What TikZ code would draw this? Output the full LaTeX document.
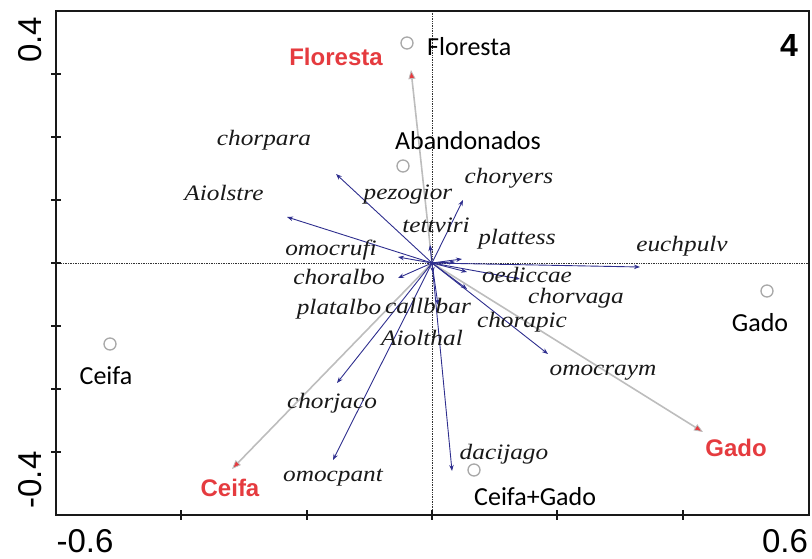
\documentclass[tikz,border=0pt]{standalone}
\usepackage{fontspec}
\setmainfont{Liberation Serif}
\newfontfamily\arialf{Liberation Sans}
\newfontfamily\calibf{Carlito}
\newfontfamily\sppf[FakeStretch=1.15]{Liberation Serif}
\usetikzlibrary{arrows.meta}
\definecolor{spblue}{HTML}{2E2E8E}
\definecolor{lgray}{HTML}{BDBDBD}
\definecolor{cgray}{HTML}{A8A8A8}
\definecolor{redlab}{HTML}{E53B3F}
\tikzset{
  frame/.style={line width=2pt, draw=black!90},
  guide/.style={densely dotted, line width=0.7pt, draw=black!80},
  axtick/.style={line width=1.6pt, draw=black!90},
  sparrow/.style={draw=spblue, line width=0.9pt, -{Stealth[length=6pt,width=4.5pt,color=spblue]}},
  envarrow/.style={draw=lgray, line width=1.6pt, -{Triangle[length=9pt,width=7pt,color=lgray,fill=redlab,line width=0.8pt]}},
  site/.style={circle, draw=cgray, line width=1.3pt, minimum size=12pt, inner sep=0pt},
  sitelab/.style={font=\calibf\fontsize{26}{26}\selectfont, text=black, inner sep=0pt},
  envlab/.style={font=\arialf\bfseries\fontsize{24}{24}\selectfont, text=redlab, inner sep=0pt},
  splab/.style={font=\sppf\itshape\fontsize{22}{22}\selectfont, text=black!90, inner sep=0pt},
  axlab/.style={font=\arialf\fontsize{33}{33}\selectfont, text=black, inner sep=0pt}
}
\begin{document}
\begin{tikzpicture}[x=1pt,y=-1pt]
\useasboundingbox (0,0) rectangle (812,559);
% guides
\draw[guide] (56,263) -- (809,263);
\draw[guide] (432,11) -- (432,515);
% origin
\coordinate (o) at (432,263);
% species arrow tips
\coordinate (tchorpara) at (336,174);
\coordinate (taiolstre) at (287,217);
\coordinate (tomocrufi) at (398,257);
\coordinate (tchoralbo) at (398,278);
\coordinate (ttettviri) at (430,245);
\coordinate (tchoryers) at (463,200);
\coordinate (tplattess) at (462,259);
\coordinate (tsmallA) at (455,262);
\coordinate (tsmallB) at (467,272);
\coordinate (teuchpulv) at (640,267);
\coordinate (toediccae) at (520,279);
\coordinate (tchorvaga) at (467,289);
\coordinate (tomocraym) at (548,354);
\coordinate (tcallbbar) at (433,273);
\coordinate (taiolthal) at (438,305);
\coordinate (tchorjaco) at (337,383);
\coordinate (tomocpant) at (333,460);
\coordinate (tdacijago) at (452,471);
% environmental arrow tips
\coordinate (eF) at (411,70);
\coordinate (eC) at (232,469);
\coordinate (eG) at (703,432);
% environmental arrows (gray)
\draw[envarrow] (o) -- (eF);
\draw[envarrow] (o) -- (eC);
\draw[envarrow] (o) -- (eG);
% species arrows (blue)
\draw[sparrow] (o) -- (tchorpara);
\draw[sparrow] (o) -- (taiolstre);
\draw[sparrow] (o) -- (tomocrufi);
\draw[sparrow] (o) -- (tchoralbo);
\draw[sparrow] (o) -- (ttettviri);
\draw[sparrow] (o) -- (tchoryers);
\draw[sparrow] (o) -- (tplattess);
\draw[sparrow] (o) -- (tsmallA);
\draw[sparrow] (o) -- (tsmallB);
\draw[sparrow] (o) -- (teuchpulv);
\draw[sparrow] (o) -- (toediccae);
\draw[sparrow] (o) -- (tchorvaga);
\draw[sparrow] (o) -- (tomocraym);
\draw[sparrow] (o) -- (tcallbbar);
\draw[sparrow] (o) -- (taiolthal);
\draw[sparrow] (o) -- (tchorjaco);
\draw[sparrow] (o) -- (tomocpant);
\draw[sparrow] (o) -- (tdacijago);
% frame
\draw[frame] (56,11) rectangle (809,515);
% ticks
\foreach \yy in {74,137,200,263,326,389,452}{
  \draw[axtick] (51,\yy) -- (61,\yy);
}
\foreach \xx in {181,307,432,557,683}{
  \draw[axtick] (\xx,510) -- (\xx,520);
}
% axis labels
\node[axlab, rotate=90] (ya) at (30,40) {0.4};
\node[axlab, rotate=90] (yb) at (30,480) {-0.4};
\node[axlab] (xa) at (85,541) {-0.6};
\node[axlab] (xb) at (785,541) {0.6};
\node[font=\arialf\bfseries\fontsize{32}{32}\selectfont, inner sep=0pt] (num) at (789,45) {4};
% sites
\node[site] (sF) at (407,43) {};
\node[site] (sA) at (403,166) {};
\node[site] (sC) at (110,344) {};
\node[site] (sG) at (767,291) {};
\node[site] (sCG) at (474,470) {};
\node[sitelab, anchor=west] (lF) at (427,47) {Floresta};
\node[sitelab] (lA) at (468,141) {Abandonados};
\node[sitelab] (lC) at (106,376) {Ceifa};
\node[sitelab] (lG) at (760,323) {Gado};
\node[sitelab, anchor=west] (lCG) at (474,497) {Ceifa+Gado};
% env labels
\node[envlab] (rF) at (336,57) {Floresta};
\node[envlab] (rC) at (230,488) {Ceifa};
\node[envlab] (rG) at (736,448) {Gado};
% species labels
\node[splab] (nchorpara) at (264,140) {chorpara};
\node[splab] (naiolstre) at (224,193) {Aiolstre};
\node[splab] (nomocrufi) at (331,250) {omocrufi};
\node[splab] (nchoralbo) at (339,277) {choralbo};
\node[splab] (nplatalbo) at (339,309) {platalbo};
\node[splab] (ncallbbar) at (428,306) {callbbar};
\node[splab] (naiolthal) at (422,338) {Aiolthal};
\node[splab] (npezogior) at (408,195) {pezogior};
\node[splab] (ntettviri) at (436,225) {tettviri};
\node[splab] (nchoryers) at (509,178) {choryers};
\node[splab] (nplattess) at (517,239) {plattess};
\node[splab] (neuchpulv) at (682,246) {euchpulv};
\node[splab] (noediccae) at (527,275) {oediccae};
\node[splab] (nchorvaga) at (576,298) {chorvaga};
\node[splab] (nchorapic) at (522,322) {chorapic};
\node[splab] (nomocraym) at (603,373) {omocraym};
\node[splab] (ndacijago) at (504,454) {dacijago};
\node[splab] (nchorjaco) at (332,403) {chorjaco};
\node[splab] (nomocpant) at (333,478) {omocpant};
\end{tikzpicture}
\end{document}
